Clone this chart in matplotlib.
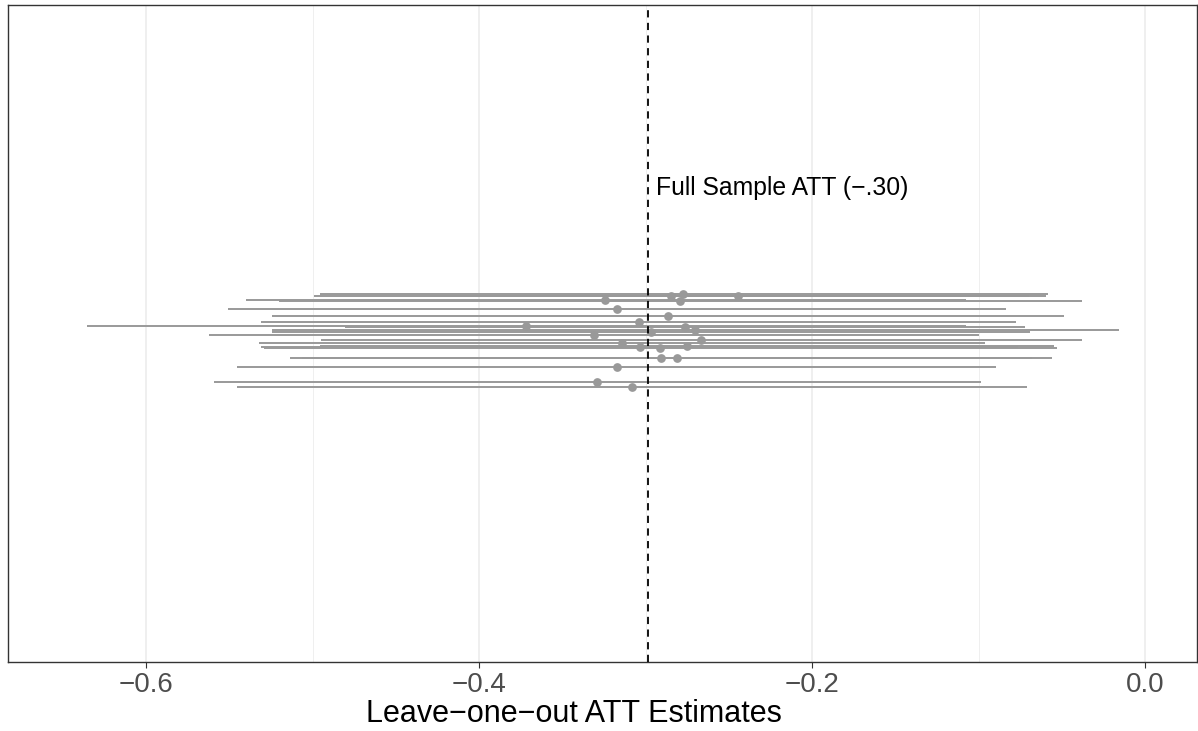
import matplotlib
matplotlib.use("Agg")
import matplotlib.pyplot as plt
from matplotlib.ticker import FixedLocator, FuncFormatter

plt.rcParams['font.family'] = ['Liberation Sans', 'DejaVu Sans']

# leave-one-out estimates, lower/upper CI, vertical jitter
est = [-0.2847, -0.2775, -0.2444, -0.3243, -0.2793, -0.3171, -0.2865, -0.3042,
       -0.3718, -0.2763, -0.2700, -0.2967, -0.3309, -0.2664, -0.3141, -0.2751,
       -0.3036, -0.2913, -0.2811, -0.2907, -0.3174, -0.3291, -0.3081]
lo = [-0.4991, -0.4955, -0.4294, -0.5401, -0.5201, -0.5508, -0.5243, -0.5309,
      -0.6356, -0.4805, -0.5243, -0.5243, -0.5622, -0.4949, -0.5321, -0.4955,
      -0.5309, -0.5291, -0.5063, -0.5135, -0.5453, -0.5593, -0.5453]
hi = [-0.0698, -0.0583, -0.0595, -0.1077, -0.0380, -0.0835, -0.0486, -0.0775,
      -0.1077, -0.0721, -0.0156, -0.0691, -0.0999, -0.0378, -0.0961, -0.0547,
      -0.0763, -0.0530, -0.0559, -0.0679, -0.0895, -0.0985, -0.0710]
jit = [0.115, 0.119, 0.115, 0.103, 0.099, 0.074, 0.054, 0.034, 0.024, 0.020,
       0.012, 0.006, -0.004, -0.021, -0.030, -0.037, -0.041, -0.044, -0.074,
       -0.074, -0.101, -0.147, -0.163]
full_att = -0.2985
label = "Full Sample ATT (\u2212.30)"

fig = plt.figure(figsize=(11.98, 7.31), dpi=100)
ax = fig.add_axes([8 / 1198, 69 / 731, 1189 / 1198, 657 / 731])

ax.hlines(jit, lo, hi, color='#999999', lw=1.4, zorder=3)
ax.plot(est, jit, 'o', color='#999999', ms=6.3, mew=0, zorder=4)
ax.axvline(full_att, color='black', lw=1.3, ls=(0, (4, 3)), zorder=5)
ax.text(full_att + 0.0045, 0.443, label, fontsize=17.8, ha='left', va='center')

ax.set_xlim(-0.6829, 0.0312)
ax.set_ylim(-1, 1)
ax.xaxis.set_major_locator(FixedLocator([-0.6, -0.4, -0.2, 0.0]))
ax.xaxis.set_minor_locator(FixedLocator([-0.5, -0.3, -0.1]))
ax.xaxis.set_major_formatter(FuncFormatter(
    lambda v, p: f"{v:.1f}".replace("-", "\u2212") if abs(v) > 1e-9 else "0.0"))
ax.grid(True, which='major', axis='x', color='#EBEBEB', lw=1.1, zorder=0)
ax.grid(True, which='minor', axis='x', color='#EBEBEB', lw=0.55, zorder=0)
ax.set_axisbelow(True)
ax.set_yticks([])
ax.tick_params(axis='x', which='major', length=4, width=0.8, color='#333333',
               labelsize=20, labelcolor='#4D4D4D', pad=3)
ax.tick_params(axis='x', which='minor', length=0)
for s in ax.spines.values():
    s.set_color('#333333')
    s.set_linewidth(1.0)
ax.set_xlabel("Leave\u2212one\u2212out ATT Estimates", fontsize=22)
ax.xaxis.set_label_coords((574 - 8) / 1189, -(714 - 662) / 657)
ax.xaxis.label.set_va('center')

fig.savefig("out.png", dpi=100)
